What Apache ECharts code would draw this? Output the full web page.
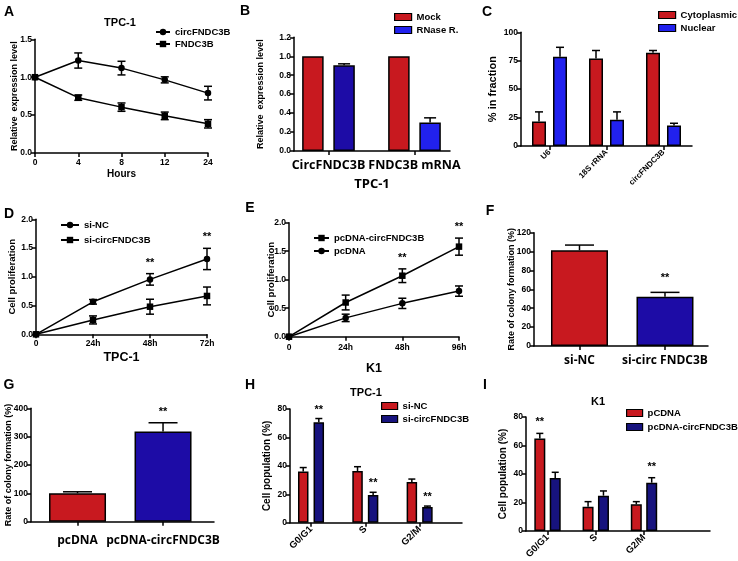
<!DOCTYPE html>
<html><head><meta charset="utf-8">
<script src="https://cdn.jsdelivr.net/npm/echarts@6.0.0/dist/echarts.min.js"></script>
<style>html,body{margin:0;padding:0;background:#fff}#c{width:738px;height:561px}</style>
</head><body><div id="c"></div>
<script>
// ---------------- Data ----------------
// A
const hoursA = ['0', '4', '8', '12', '24'];
const circA = [1.0, 1.22, 1.12, 0.965, 0.79];
const circA_err = [0, 0.10, 0.09, 0.04, 0.09];
const fndcA = [1.0, 0.73, 0.605, 0.49, 0.385];
const fndcA_err = [0, 0.035, 0.055, 0.05, 0.055];
// B
const catsB = ['CircFNDC3B', 'FNDC3B mRNA'];
const mockB = [1.0, 1.0];
const mockB_err = [0, 0];
const rnaseB = [0.905, 0.30];
const rnaseB_err = [0.015, 0.05];
// C
const catsC = ['U6', '18S rRNA', 'circFNDC3B'];
const cytoC = [21.5, 77, 82];
const cytoC_err = [8.5, 7, 2];
const nucC = [78.6, 23, 18];
const nucC_err = [8.2, 7, 2];
// D
const timeD = ['0', '24h', '48h', '72h'];
const siNC_D = [0, 0.565, 0.955, 1.31];
const siNC_D_err = [0, 0.04, 0.10, 0.185];
const siCirc_D = [0, 0.25, 0.48, 0.667];
const siCirc_D_err = [0, 0.07, 0.13, 0.155];
const sigD = ['', '', '**', '**'];
// E
const timeE = ['0', '24h', '48h', '96h'];
const pcCirc_E = [0, 0.60, 1.07, 1.58];
const pcCirc_E_err = [0, 0.13, 0.12, 0.15];
const pc_E = [0, 0.33, 0.585, 0.80];
const pc_E_err = [0, 0.065, 0.09, 0.09];
const sigE = ['', '', '**', '**'];
// F
const catsF = ['si-NC', 'si-circ FNDC3B'];
const valsF = [101.5, 52.2];
const valsF_err = [5.4, 4.6];
const sigF = ['', '**'];
// G
const catsG = ['pcDNA', 'pcDNA-circFNDC3B'];
const valsG = [100.5, 318];
const valsG_err = [5, 31];
const sigG = ['', '**'];
// H
const phases = ['G0/G1', 'S', 'G2/M'];
const siNC_H = [36, 36.4, 28.6];
const siNC_H_err = [2.8, 3, 2.1];
const siCirc_H = [70.7, 19.5, 11];
const siCirc_H_err = [2.6, 1.9, 0.7];
const sigH = ['**', '**', '**'];
// I
const pc_I = [65, 17.1, 18.7];
const pc_I_err = [3.5, 3.5, 1.9];
const pcCirc_I = [37.2, 24.8, 33.9];
const pcCirc_I_err = [4, 3.3, 3.5];
const sigI_pc = ['**', '', ''];
const sigI_circ = ['', '', '**'];

// ---------------- Styling helpers ----------------
const SANS = '"Liberation Sans", Arial, sans-serif';
const CAL = '"Open Sans", "Liberation Sans", sans-serif';
const RED = '#c8191f', DARKBLUE = '#1d0ca6', BRIGHT = '#2121ee', NAVY = '#17137e';
const AX = {color: '#000', width: 1.5};

function yAx(g, min, max, interval, name, nameGap, nameSize, digits) {
  return {
    type: 'value', gridIndex: g, min, max, interval,
    name, nameLocation: 'middle', nameGap, nameRotate: 90, nameMoveOverlap: false,
    nameTextStyle: {fontFamily: SANS, fontWeight: 'bold', fontSize: nameSize, color: '#000'},
    axisLine: {show: true, lineStyle: AX},
    axisTick: {show: true, length: 4, lineStyle: AX},
    axisLabel: {fontFamily: SANS, fontWeight: 'bold', fontSize: 8.5, color: '#000', margin: 3,
      formatter: v => Number(v).toFixed(digits)},
    splitLine: {show: false}
  };
}
function xLine(g, cats, name, nameGap, nameSize, margin) {
  return {
    type: 'category', gridIndex: g, data: cats, boundaryGap: false,
    axisLine: {show: true, lineStyle: AX},
    axisTick: {show: true, alignWithLabel: true, length: 4, lineStyle: AX},
    axisLabel: {fontFamily: SANS, fontWeight: 'bold', fontSize: 8.5, color: '#000', margin, interval: 0},
    name, nameLocation: 'middle', nameGap, nameMoveOverlap: false,
    nameTextStyle: {fontFamily: SANS, fontWeight: 'bold', fontSize: nameSize, color: '#000'},
    splitLine: {show: false}
  };
}
function xBar(g, cats, min, max, lab, name, nameGap, nameStyle) {
  const pos = cats.map((c, i) => i + 1);
  return {
    type: 'value', gridIndex: g, min, max,
    axisLine: {show: true, lineStyle: AX},
    axisTick: {show: true, length: 4, lineStyle: AX, customValues: pos},
    axisLabel: Object.assign({customValues: pos, color: '#000',
      formatter: v => cats[Math.round(v) - 1] || ''}, lab),
    name: name || '', nameLocation: 'middle', nameGap: nameGap || 0, nameMoveOverlap: false,
    nameTextStyle: nameStyle || {},
    splitLine: {show: false}
  };
}
function lineS(name, g, vals, symbol) {
  return {type: 'line', name, xAxisIndex: g, yAxisIndex: g, data: vals, symbol, symbolSize: 6.5,
    itemStyle: {color: '#000'}, lineStyle: {color: '#000', width: 1.5}, z: 3, silent: true};
}
function barS(name, g, vals, color, barW, barGap, colors) {
  return {type: 'bar', name, xAxisIndex: g, yAxisIndex: g, barWidth: barW, barGap,
    data: vals.map((v, i) => colors ? {value: [i + 1, v], itemStyle: {color: colors[i]}} : [i + 1, v]),
    itemStyle: {color, borderColor: '#000', borderWidth: 1.5}, silent: true};
}
function errS(g, vals, errs, o) {
  return {
    type: 'custom', xAxisIndex: g, yAxisIndex: g, z: 5, silent: true,
    data: vals.map((v, i) => [o.bar ? i + 1 : i, v, errs[i]]),
    renderItem: function (params, api) {
      const x = api.value(0), v = api.value(1), e = api.value(2);
      const p0 = api.coord([x, v]);
      const pT = api.coord([x, v + e]);
      const pB = api.coord([x, v - e]);
      const cx = p0[0] + (o.offset || 0);
      const h = o.cap / 2;
      const st = {stroke: '#000', lineWidth: 1.5, fill: null};
      const ch = [];
      if (e > 0) {
        ch.push({type: 'line', shape: {x1: cx, y1: o.bar ? p0[1] : pB[1], x2: cx, y2: pT[1]}, style: st});
        ch.push({type: 'line', shape: {x1: cx - h, y1: pT[1], x2: cx + h, y2: pT[1]}, style: st});
        if (!o.bar) ch.push({type: 'line', shape: {x1: cx - h, y1: pB[1], x2: cx + h, y2: pB[1]}, style: st});
      }
      const s = o.sig && o.sig[params.dataIndex];
      if (s) ch.push({type: 'text', style: {text: s, x: cx, y: pT[1] - (o.sigGap || 10),
        align: 'center', verticalAlign: 'middle', font: 'bold 11px ' + SANS, fill: '#000'}});
      return {type: 'group', children: ch};
    }
  };
}
function leg(names, left, top, gap, w, h, isBar) {
  const l = {orient: 'vertical', left, top, itemGap: gap, itemWidth: w, itemHeight: h, padding: 0,
    data: names, selectedMode: false, formatter: n => n.split('|')[1],
    textStyle: {fontFamily: SANS, fontWeight: 'bold', fontSize: 9.5, color: '#000', lineHeight: 10}};
  if (isBar) { l.icon = 'rect'; l.itemStyle = {borderColor: '#000', borderWidth: 1.2}; }
  return l;
}
function txt(t, x, y, size) {
  return {type: 'text', x, y, silent: true,
    style: {text: t, align: 'center', verticalAlign: 'middle', font: 'bold ' + size + 'px ' + SANS, fill: '#000'}};
}

const catLab = (size, margin) => ({fontFamily: CAL, fontWeight: 'bold', fontSize: size, margin});
const rotLab = (size) => ({fontFamily: SANS, fontWeight: 'bold', fontSize: size, rotate: 45, margin: 5});

const grids = [
  {left: 35, top: 39.3, width: 173, height: 113.7},   // A
  {left: 294, top: 37.3, width: 156, height: 113.7},  // B
  {left: 521, top: 32.3, width: 171, height: 113.7},  // C
  {left: 36, top: 219.3, width: 171, height: 115},    // D
  {left: 289, top: 222.7, width: 170, height: 114},   // E
  {left: 534, top: 232.7, width: 174, height: 113.3}, // F
  {left: 31, top: 408.3, width: 183, height: 113.4},  // G
  {left: 290, top: 409, width: 172, height: 113.7},   // H
  {left: 526, top: 417, width: 184, height: 114}      // I
].map(g => Object.assign({outerBoundsMode: 'none', containLabel: false}, g));

const option = {
  animation: false,
  backgroundColor: '#fff',
  grid: grids,
  xAxis: [
    xLine(0, hoursA, 'Hours', 16, 10, 5),
    xBar(1, catsB, 0.599, 2.413, catLab(12.5, 8), 'TPC-1', 27,
      {fontFamily: CAL, fontWeight: 'bold', fontSize: 13, color: '#000'}),
    xBar(2, catsC, 0.5, 3.5, rotLab(8)),
    xLine(3, timeD, 'TPC-1', 17, 12.5, 5),
    xLine(4, timeE, 'K1', 25, 12.5, 6),
    xBar(5, catsF, 0.468, 2.503, catLab(12, 9)),
    xBar(6, catsG, 0.456, 2.596, catLab(12, 13)),
    xBar(7, phases, 0.613, 3.78, rotLab(9.5)),
    xBar(8, phases, 0.554, 4.368, rotLab(9.5))
  ],
  yAxis: [
    yAx(0, 0, 1.5, 0.5, 'Relative  expression level', 15.5, 9, 1),
    yAx(1, 0, 1.2, 0.2, 'Relative  expression level', 29, 9, 1),
    yAx(2, 0, 100, 25, '% in fraction', 22.5, 11, 0),
    yAx(3, 0, 2, 0.5, 'Cell proliferation', 19, 9.5, 1),
    yAx(4, 0, 2, 0.5, 'Cell proliferation', 13, 9.5, 1),
    yAx(5, 0, 120, 20, 'Rate of colony formation (%)', 17.5, 9, 0),
    yAx(6, 0, 400, 100, 'Rate of colony formation (%)', 17.5, 9, 0),
    yAx(7, 0, 80, 20, 'Cell population (%)', 18, 10, 0),
    yAx(8, 0, 80, 20, 'Cell population (%)', 18, 10, 0)
  ],
  legend: [
    leg(['A|circFNDC3B', 'A|FNDC3B'], 155, 27, 2, 14, 8, false),
    leg(['B|Mock', 'B|RNase R.'], 394, 12, 3, 17, 7, true),
    leg(['C|Cytoplasmic', 'C|Nuclear'], 658, 10, 3, 17, 7, true),
    leg(['D|si-NC', 'D|si-circFNDC3B'], 60, 220, 5, 18, 8, false),
    leg(['E|pcDNA-circFNDC3B', 'E|pcDNA'], 313, 233, 3, 15, 8, false),
    leg(['H|si-NC', 'H|si-circFNDC3B'], 381, 401, 3, 16, 7, true),
    leg(['I|pCDNA', 'I|pcDNA-circFNDC3B'], 626, 408, 4, 16, 7, true)
  ],
  series: [
    // A
    errS(0, circA, circA_err, {cap: 8}),
    errS(0, fndcA, fndcA_err, {cap: 8}),
    lineS('A|circFNDC3B', 0, circA, 'circle'),
    lineS('A|FNDC3B', 0, fndcA, 'rect'),
    // B
    barS('B|Mock', 1, mockB, RED, 21.5, '45%'),
    barS('B|RNase R.', 1, rnaseB, BRIGHT, 21.5, '45%', [DARKBLUE, BRIGHT]),
    errS(1, mockB, mockB_err, {bar: true, offset: -15.6, cap: 12}),
    errS(1, rnaseB, rnaseB_err, {bar: true, offset: 15.6, cap: 12}),
    // C
    barS('C|Cytoplasmic', 2, cytoC, RED, 14, '50%'),
    barS('C|Nuclear', 2, nucC, BRIGHT, 14, '50%'),
    errS(2, cytoC, cytoC_err, {bar: true, offset: -10.5, cap: 8}),
    errS(2, nucC, nucC_err, {bar: true, offset: 10.5, cap: 8}),
    // D
    errS(3, siNC_D, siNC_D_err, {cap: 8, sig: sigD, sigGap: 11}),
    errS(3, siCirc_D, siCirc_D_err, {cap: 8}),
    lineS('D|si-NC', 3, siNC_D, 'circle'),
    lineS('D|si-circFNDC3B', 3, siCirc_D, 'rect'),
    // E
    errS(4, pcCirc_E, pcCirc_E_err, {cap: 8, sig: sigE, sigGap: 11}),
    errS(4, pc_E, pc_E_err, {cap: 8}),
    lineS('E|pcDNA-circFNDC3B', 4, pcCirc_E, 'rect'),
    lineS('E|pcDNA', 4, pc_E, 'circle'),
    // F
    barS('F|rate', 5, valsF, DARKBLUE, 57, '0%', [RED, DARKBLUE]),
    errS(5, valsF, valsF_err, {bar: true, cap: 29, sig: sigF, sigGap: 14}),
    // G
    barS('G|rate', 6, valsG, DARKBLUE, 57, '0%', [RED, DARKBLUE]),
    errS(6, valsG, valsG_err, {bar: true, cap: 29, sig: sigG, sigGap: 11}),
    // H
    barS('H|si-NC', 7, siNC_H, RED, 10.5, '48%'),
    barS('H|si-circFNDC3B', 7, siCirc_H, NAVY, 10.5, '48%'),
    errS(7, siNC_H, siNC_H_err, {bar: true, offset: -7.8, cap: 7}),
    errS(7, siCirc_H, siCirc_H_err, {bar: true, offset: 7.8, cap: 7, sig: sigH, sigGap: 9}),
    // I
    barS('I|pCDNA', 8, pc_I, RED, 11, '40%'),
    barS('I|pcDNA-circFNDC3B', 8, pcCirc_I, NAVY, 11, '40%'),
    errS(8, pc_I, pc_I_err, {bar: true, offset: -7.7, cap: 7, sig: sigI_pc, sigGap: 11}),
    errS(8, pcCirc_I, pcCirc_I_err, {bar: true, offset: 7.7, cap: 7, sig: sigI_circ, sigGap: 11})
  ],
  graphic: [
    txt('A', 9, 12, 14), txt('B', 245, 11, 14), txt('C', 487, 12, 14),
    txt('D', 9, 214, 14), txt('E', 250, 208, 14), txt('F', 490, 211, 14),
    txt('G', 9, 385, 14), txt('H', 250, 385, 14), txt('I', 485, 385, 14),
    txt('TPC-1', 120, 23, 11), txt('TPC-1', 366, 393, 11), txt('K1', 598, 402, 11)
  ]
};

const chart = echarts.init(document.getElementById('c'), null, {renderer: 'canvas'});
chart.setOption(option);
</script></body></html>
